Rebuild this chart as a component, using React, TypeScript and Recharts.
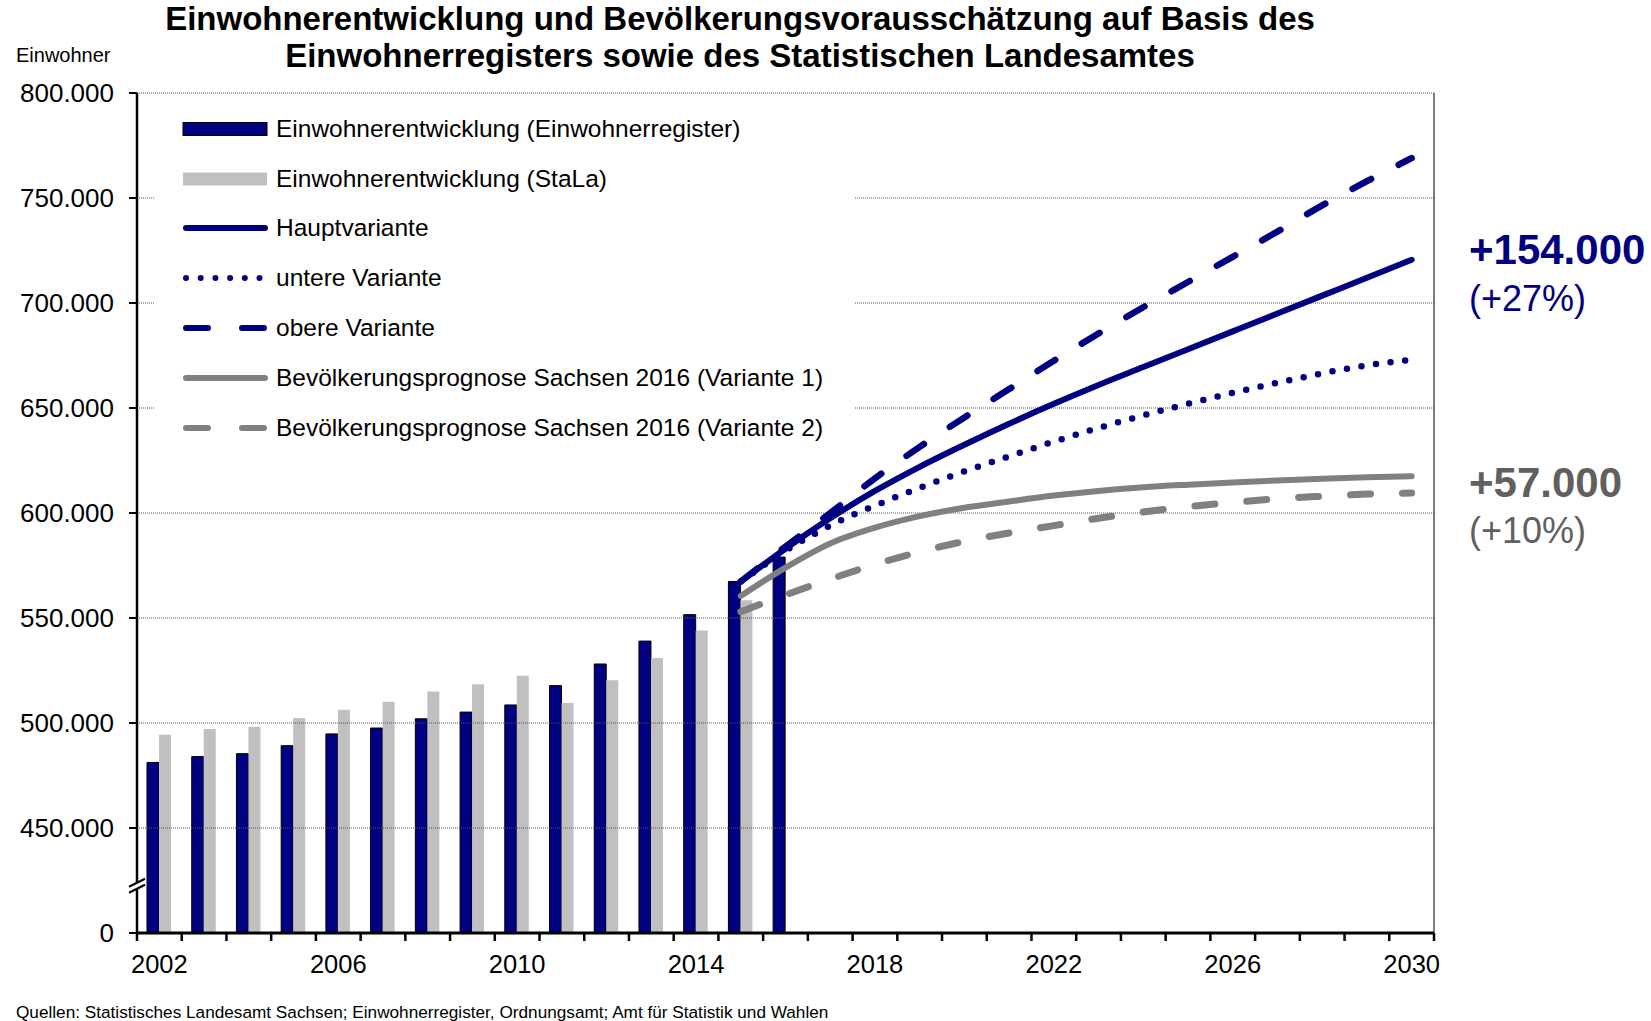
import React from "react";
import { ComposedChart, Bar, Line, XAxis, YAxis, ReferenceLine, Legend } from "recharts";

const NAVY = "#000080";
const GRAY_BAR = "#C0C0C0";
const GRAY_LINE = "#808080";
const ANNO_GRAY = "#606060";
const FONT = "'Liberation Sans', Arial, Helvetica, sans-serif";

// categories 2002..2030
const years = [
  "2002", "2003", "2004", "2005", "2006", "2007", "2008", "2009", "2010", "2011",
  "2012", "2013", "2014", "2015", "2016", "2017", "2018", "2019", "2020", "2021",
  "2022", "2023", "2024", "2025", "2026", "2027", "2028", "2029", "2030",
];
const xLabelYears = ["2002", "2006", "2010", "2014", "2018", "2022", "2026", "2030"];

// Einwohnerregister 2002..2016
const registerValues = [
  481200, 484000, 485400, 489200, 494800, 497600, 502000, 505200, 508600, 517800,
  528100, 539000, 551600, 567400, 579000,
];
// StaLa 2002..2015
const stalaValues = [
  494400, 497100, 498200, 502400, 506300, 510100, 515000, 518400, 522500, 509500,
  520300, 531000, 544000, 558500,
];

// forecasts 2015..2030
const forecastStart = "2015";
const hauptVariante = [
  567400, 583000, 597500, 610500, 622000, 632500, 642500, 652000, 661000, 669500,
  678000, 686500, 695000, 703500, 712000, 720600,
];
const untereVariante = [
  567400, 582000, 594000, 603500, 612000, 619800, 627000, 634000, 640500, 646500,
  652000, 657200, 662000, 666500, 670300, 673000,
];
const obereVariante = [
  567400, 584000, 600000, 616500, 631500, 645500, 659000, 672500, 685500, 698000,
  710000, 722000, 734000, 746500, 758000, 769000,
];
const sachsenV1 = [
  560500, 574000, 585500, 593000, 598500, 602500, 605500, 608300, 610500, 612300,
  613500, 614500, 615500, 616300, 617000, 617500,
];
const sachsenV2 = [
  553000, 561000, 568500, 575500, 581500, 586500, 590500, 594000, 597500, 600500,
  603000, 605000, 606800, 608000, 609000, 609500,
];

const yTicks = [400000, 422500, 450000, 500000, 550000, 600000, 650000, 700000, 750000, 800000];
const breakValue = 422500;
const gridValues = [450000, 500000, 550000, 600000, 650000, 700000, 750000, 800000];

const startIdx = years.indexOf(forecastStart);
const data = years.map((year, i) => {
  const f = i - startIdx;
  const pick = (arr: number[]) => (f >= 0 ? arr[f] : null);
  return {
    year,
    register: registerValues[i] ?? null,
    stala: stalaValues[i] ?? null,
    haupt: pick(hauptVariante),
    untere: pick(untereVariante),
    obere: pick(obereVariante),
    v1: pick(sachsenV1),
    v2: pick(sachsenV2),
  };
});

const legendItems = [
  { label: "Einwohnerentwicklung (Einwohnerregister)", kind: "bar", color: NAVY },
  { label: "Einwohnerentwicklung (StaLa)", kind: "bar", color: GRAY_BAR },
  { label: "Hauptvariante", kind: "line", color: NAVY, dash: undefined },
  { label: "untere Variante", kind: "line", color: NAVY, dash: "0 14.7" },
  { label: "obere Variante", kind: "line", color: NAVY, dash: "22 34" },
  { label: "Bevölkerungsprognose Sachsen 2016 (Variante 1)", kind: "line", color: GRAY_LINE, dash: undefined },
  { label: "Bevölkerungsprognose Sachsen 2016 (Variante 2)", kind: "line", color: GRAY_LINE, dash: "22 34" },
];

const TICK_LEN = 8;
const TICK_GAP = 15;
const PLOT_W = 1651 - 137 - 217;

const fmt = (v: number) => (v === 400000 ? "0" : `${Math.round(v / 1000)}.000`);

const YTick = (props: any) => {
  const { x, y, payload } = props;
  const v = payload.value;
  const ax = x + TICK_GAP + TICK_LEN;
  if (v === breakValue) {
    return (
      <g>
        <polygon points={`${ax - 8},${y + 7} ${ax + 8},${y - 1} ${ax + 8},${y - 7} ${ax - 8},${y + 1}`} fill="#fff" />
        <line x1={ax - 8} y1={y + 7} x2={ax + 8} y2={y - 1} stroke="#000" strokeWidth={2} />
        <line x1={ax - 8} y1={y + 1} x2={ax + 8} y2={y - 7} stroke="#000" strokeWidth={2} />
      </g>
    );
  }
  return (
    <g>
      <line x1={ax - TICK_LEN} x2={ax} y1={y} y2={y} stroke="#000" strokeWidth={2} />
      <text x={x} y={y} dy="0.36em" textAnchor="end" fontSize={26} fontFamily={FONT} fill="#000">
        {fmt(v)}
      </text>
    </g>
  );
};

const XTick = (props: any) => {
  const { x, y, payload, index } = props;
  const band = PLOT_W / years.length;
  const axisY = y - TICK_GAP - TICK_LEN;
  const left = x - band / 2;
  const last = index === years.length - 1;
  return (
    <g>
      <line x1={left} x2={left} y1={axisY} y2={axisY + TICK_LEN} stroke="#000" strokeWidth={2.5} />
      {last && <line x1={x + band / 2} x2={x + band / 2} y1={axisY} y2={axisY + TICK_LEN} stroke="#000" strokeWidth={2.5} />}
      {xLabelYears.includes(payload.value) && (
        <text x={x} y={y} dy="0.68em" textAnchor="middle" fontSize={25.5} fontFamily={FONT} fill="#000">
          {payload.value}
        </text>
      )}
    </g>
  );
};

const renderLegend = () => (
  <div style={{ fontFamily: FONT, fontSize: 24.5, color: "#000" }}>
    {legendItems.map((it) => (
      <div key={it.label} style={{ height: 49.8, display: "flex", alignItems: "center" }}>
        <svg width={121} height={20} style={{ flex: "none" }}>
          {it.kind === "bar" ? (
            <rect x={28} y={3.5} width={84} height={13} fill={it.color} stroke={it.color === NAVY ? "#000" : "none"} strokeWidth={1} />
          ) : (
            <line x1={31} x2={110} y1={10} y2={10} stroke={it.color} strokeWidth={6} strokeLinecap="round" strokeDasharray={it.dash} />
          )}
        </svg>
        <span style={{ whiteSpace: "nowrap" }}>{it.label}</span>
      </div>
    ))}
  </div>
);

const lineDefs = [
  { key: "v2", color: GRAY_LINE, dash: "20 32", width: 7 },
  { key: "v1", color: GRAY_LINE, dash: undefined, width: 6 },
  { key: "untere", color: NAVY, dash: "0 14.7", width: 6.5 },
  { key: "obere", color: NAVY, dash: "21 31", width: 6.5 },
  { key: "haupt", color: NAVY, dash: undefined, width: 6 },
];

export default function App() {
  return (
    <div style={{ position: "absolute", left: 0, top: 0, width: 1651, height: 1021, background: "#fff", fontFamily: FONT }}>
      <div style={{ position: "absolute", left: 0, top: 0, width: 1480, textAlign: "center", fontSize: 33, fontWeight: "bold", lineHeight: "37px" }}>
        Einwohnerentwicklung und Bevölkerungsvorausschätzung auf Basis des
        <br />
        Einwohnerregisters sowie des Statistischen Landesamtes
      </div>
      <div style={{ position: "absolute", left: 16, top: 45, fontSize: 20, lineHeight: "20px" }}>Einwohner</div>

      <ComposedChart
        width={1651}
        height={1021}
        data={data}
        margin={{ top: 93, right: 216, bottom: 28, left: 0 }}
        barGap={0}
        barSize={12}
      >
        {gridValues.map((v) => (
          <ReferenceLine key={v} y={v} stroke="#555" strokeDasharray="1 1" strokeWidth={1} />
        ))}
        <XAxis
          dataKey="year"
          interval={0}
          height={60}
          tickLine={false}
          tickSize={TICK_LEN}
          tickMargin={TICK_GAP}
          axisLine={{ stroke: "#000", strokeWidth: 3 }}
          tick={<XTick />}
        />
        <YAxis
          type="number"
          domain={[400000, 800000]}
          ticks={yTicks}
          allowDataOverflow
          width={137}
          tickLine={false}
          tickSize={TICK_LEN}
          tickMargin={TICK_GAP}
          axisLine={{ stroke: "#000", strokeWidth: 2.5 }}
          tick={<YTick />}
        />
        <YAxis
          yAxisId="frame"
          orientation="right"
          type="number"
          domain={[400000, 800000]}
          width={1}
          tick={false}
          tickLine={false}
          axisLine={{ stroke: "#000", strokeWidth: 1 }}
        />
        <Legend
          content={renderLegend}
          layout="horizontal"
          align="center"
          verticalAlign="middle"
          wrapperStyle={{ left: 155, top: 104, width: 700, height: 352, background: "#fff" }}
        />
        <Bar dataKey="register" fill={NAVY} stroke="#000" strokeWidth={1} isAnimationActive={false} />
        <Bar dataKey="stala" fill={GRAY_BAR} isAnimationActive={false} />
        {lineDefs.map((l) => (
          <Line
            key={l.key}
            dataKey={l.key}
            type="monotone"
            stroke={l.color}
            strokeWidth={l.width}
            strokeDasharray={l.dash}
            strokeLinecap="round"
            dot={false}
            activeDot={false}
            isAnimationActive={false}
          />
        ))}
      </ComposedChart>

      <div style={{ position: "absolute", left: 1469, top: 229, fontSize: 42, lineHeight: "42px", fontWeight: "bold", color: NAVY }}>+154.000</div>
      <div style={{ position: "absolute", left: 1469, top: 281, fontSize: 36, lineHeight: "36px", color: NAVY }}>(+27%)</div>
      <div style={{ position: "absolute", left: 1469, top: 462, fontSize: 42, lineHeight: "42px", fontWeight: "bold", color: ANNO_GRAY }}>+57.000</div>
      <div style={{ position: "absolute", left: 1469, top: 513, fontSize: 36, lineHeight: "36px", color: ANNO_GRAY }}>(+10%)</div>
      <div style={{ position: "absolute", left: 16, top: 1004, fontSize: 17.2, lineHeight: "17px" }}>
        Quellen: Statistisches Landesamt Sachsen; Einwohnerregister, Ordnungsamt; Amt für Statistik und Wahlen
      </div>
    </div>
  );
}
